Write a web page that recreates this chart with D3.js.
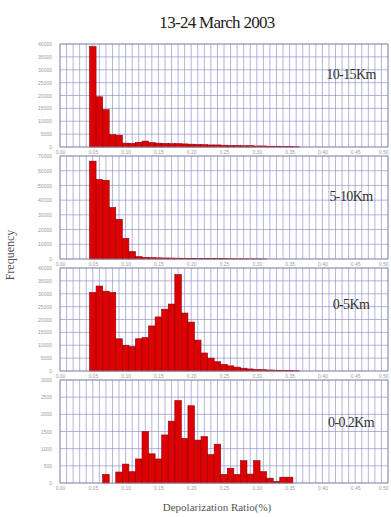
<!DOCTYPE html>
<html>
<head>
<meta charset="utf-8">
<script src="https://cdn.jsdelivr.net/npm/d3@7"></script>
<style>
  body { margin: 0; background: #fff; }
  .tick text { fill: #9c9c9c; font-family: "Liberation Sans", Arial, sans-serif; font-size: 5px; }
  .grid line { stroke: #9393cf; stroke-width: 0.7; }
</style>
</head>
<body>
<div id="chart"></div>
<script>
// left edge of each 0.01 wide bin
var binStart = [0.045, 0.055, 0.065, 0.075, 0.085, 0.095, 0.105, 0.115, 0.125, 0.135,
                0.145, 0.155, 0.165, 0.175, 0.185, 0.195, 0.205, 0.215, 0.225, 0.235,
                0.245, 0.255, 0.265, 0.275, 0.285, 0.295, 0.305, 0.315, 0.325, 0.335,
                0.345, 0.355];

var freq10to15 = [39000, 19500, 14500, 4800, 4600, 1500, 1400, 1800, 2300, 1700,
                  1500, 1400, 1300, 1300, 1200, 1100, 1000, 900, 800, 800,
                  700, 600, 600, 500, 500, 400, 400, 300, 300, 200,
                  200, 100];
var freq5to10 = [66500, 54000, 53500, 35000, 27000, 14000, 5000, 1600, 1100, 900,
                 800, 700, 650, 550, 500, 450, 400, 350, 300, 300,
                 250, 200, 150, 150, 100, 100, 50, 0, 0, 0,
                 0, 0];
var freq0to5 = [30500, 33000, 31000, 30500, 12500, 10000, 9500, 12500, 13000, 17500,
                21000, 24000, 26000, 37500, 22500, 19000, 12000, 7000, 5000, 3600,
                2600, 2000, 1500, 1100, 800, 600, 500, 400, 300, 250,
                150, 100];
var freq0to02 = [0, 0, 250, 0, 320, 550, 330, 700, 1500, 850,
                 700, 1400, 1800, 2400, 1300, 2250, 1250, 1350, 830, 1130,
                 250, 430, 250, 650, 260, 650, 330, 140, 50, 170,
                 170, 0];

var xTicks = [0, 0.05, 0.1, 0.15, 0.2, 0.25, 0.3, 0.35, 0.4, 0.45, 0.5];
var yTicks40k = [0, 5000, 10000, 15000, 20000, 25000, 30000, 35000, 40000];
var yTicks70k = [0, 10000, 20000, 30000, 40000, 50000, 60000, 70000];
var yTicks3k = [0, 500, 1000, 1500, 2000, 2500, 3000];
var panelNames = ["10-15Km", "5-10Km", "0-5Km", "0-0.2Km"];

var panels = [
  {name: panelNames[0], values: freq10to15, ticks: yTicks40k, labelDy: 32},
  {name: panelNames[1], values: freq5to10,  ticks: yTicks70k, labelDy: 42},
  {name: panelNames[2], values: freq0to5,   ticks: yTicks40k, labelDy: 38},
  {name: panelNames[3], values: freq0to02,  ticks: yTicks3k,  labelDy: 44}
];

var W = 391, H = 517;
var left = 60, plotW = 328, plotH = 103;
var binW = 0.01;
var serif = "'Liberation Serif', 'DejaVu Serif', serif";

var svg = d3.select("#chart").append("svg")
    .attr("width", W)
    .attr("height", H);

svg.append("text")
  .attr("x", 217).attr("y", 28)
  .attr("text-anchor", "middle")
  .style("font-family", serif)
  .style("font-size", "17px")
  .style("letter-spacing", "-0.7px")
  .style("fill", "#222")
  .text("13-24 March 2003");

var xScale = d3.scaleLinear().domain([0, 0.5]).range([0, plotW]);

panels.forEach(function(p, i) {
  var top = 44 + i * 112;
  var yMax = p.ticks[p.ticks.length - 1];
  var yScale = d3.scaleLinear().domain([0, yMax]).range([plotH, 0]);

  var g = svg.append("g").attr("transform", "translate(" + left + "," + top + ")");

  g.append("rect")
    .attr("width", plotW).attr("height", plotH)
    .style("fill", "#fff");

  // grid: every 0.01 on x, every tick on y
  g.append("g").attr("class", "grid")
    .selectAll("line").data(xScale.ticks(50)).enter().append("line")
      .attr("x1", function(d) { return xScale(d); })
      .attr("x2", function(d) { return xScale(d); })
      .attr("y1", 0).attr("y2", plotH);
  g.append("g").attr("class", "grid")
    .selectAll("line").data(p.ticks).enter().append("line")
      .attr("x1", 0).attr("x2", plotW)
      .attr("y1", function(d) { return yScale(d); })
      .attr("y2", function(d) { return yScale(d); });

  var bars = binStart.map(function(b, j) { return {x: b, v: p.values[j]}; })
    .filter(function(d) { return d.v > 0; });

  g.selectAll("rect.bar").data(bars).enter().append("rect")
    .attr("class", "bar")
    .attr("x", function(d) { return xScale(d.x); })
    .attr("width", function(d) { return xScale(d.x + binW) - xScale(d.x); })
    .attr("y", function(d) { return yScale(d.v); })
    .attr("height", function(d) { return plotH - yScale(d.v); })
    .style("fill", "#de0000")
    .style("stroke", "#8a0010")
    .style("stroke-width", "0.6px");

  g.append("rect")
    .attr("width", plotW).attr("height", plotH)
    .style("fill", "none")
    .style("stroke", "#8c8cab")
    .style("stroke-width", "0.8px");

  var y_axis = d3.axisLeft(yScale).tickValues(p.ticks).tickSize(0).tickPadding(8)
    .tickFormat(d3.format("d"));
  g.append("g").attr("class", "y axis").call(y_axis)
    .select(".domain").remove();

  var x_axis = d3.axisBottom(xScale).tickValues(xTicks).tickSize(0).tickPadding(3)
    .tickFormat(d3.format(".2f"));
  var xg = g.append("g").attr("class", "x axis")
    .attr("transform", "translate(0," + plotH + ")")
    .call(x_axis);
  xg.select(".domain").remove();
  // keep the last label inside the window
  xg.selectAll(".tick text").filter(function(d) { return d === 0.5; })
    .attr("text-anchor", "end");

  g.append("text")
    .attr("x", 291).attr("y", p.labelDy)
    .attr("text-anchor", "middle")
    .attr("dominant-baseline", "middle")
    .style("font-family", serif)
    .style("font-size", "14px")
    .style("letter-spacing", "-0.6px")
    .style("fill", "#333")
    .text(p.name);
});

svg.append("text")
  .attr("transform", "translate(14,255) rotate(-90)")
  .attr("text-anchor", "middle")
  .style("font-family", serif)
  .style("font-size", "12px")
  .style("fill", "#555")
  .text("Frequency");

svg.append("text")
  .attr("x", 217).attr("y", 511)
  .attr("text-anchor", "middle")
  .style("font-family", serif)
  .style("font-size", "11px")
  .style("fill", "#555")
  .text("Depolarization Ratio(%)");
</script>
</body>
</html>
